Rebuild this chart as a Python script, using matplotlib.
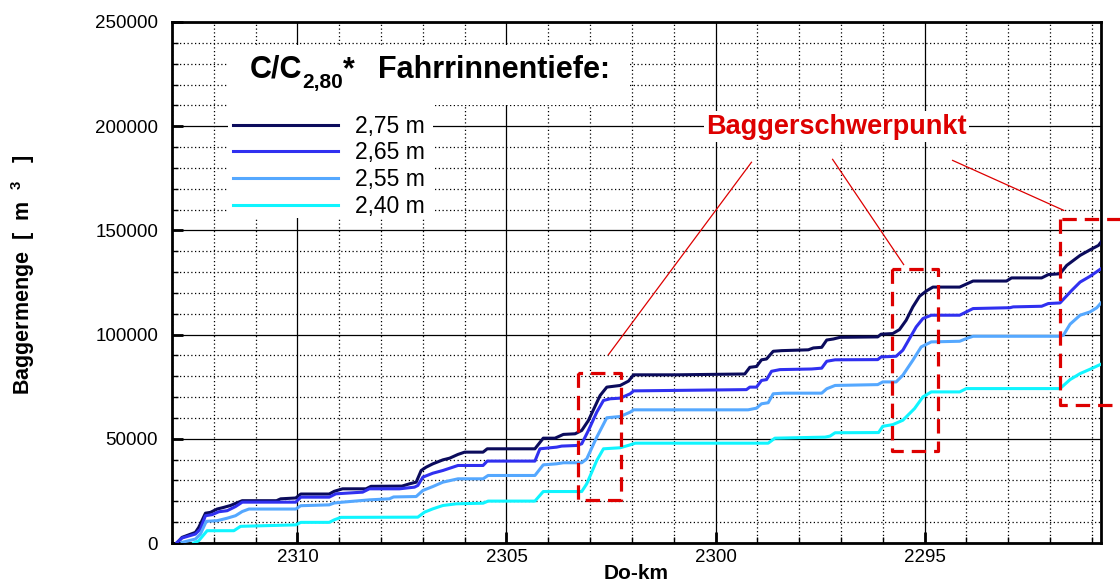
import matplotlib
matplotlib.use("Agg")
import matplotlib.pyplot as plt
from matplotlib.ticker import MultipleLocator
from matplotlib.patches import Rectangle

plt.rcParams['font.family'] = ['Liberation Sans', 'DejaVu Sans']
plt.rcParams['mathtext.fontset'] = 'custom'
plt.rcParams['mathtext.rm'] = 'Liberation Sans'
plt.rcParams['mathtext.bf'] = 'Liberation Sans:bold'
plt.rcParams['mathtext.it'] = 'Liberation Sans:italic'

# ---------------- data ----------------
km_275 = [2312.88, 2312.76, 2312.44, 2312.36, 2312.2, 2312.08, 2311.92, 2311.76, 2311.6, 2311.48,
          2311.32, 2310.5, 2310.4, 2310.04, 2309.92, 2309.24, 2309.12, 2308.92, 2308.36, 2308.24,
          2307.5, 2307.32, 2307.16, 2307.04, 2306.92, 2306.76, 2306.52, 2306.36, 2306.16, 2306.0,
          2305.56, 2305.46, 2304.32, 2304.12, 2303.84, 2303.64, 2303.36, 2303.2, 2303.04, 2302.76,
          2302.6, 2302.28, 2302.08, 2301.96, 2300.94, 2299.3, 2299.18, 2299.02, 2298.9, 2298.78,
          2298.62, 2298.42, 2297.78, 2297.66, 2297.46, 2297.34, 2297.18, 2297.02, 2296.12, 2296.04,
          2295.76, 2295.6, 2295.44, 2295.28, 2295.12, 2294.96, 2294.8, 2294.16, 2293.84, 2293.04,
          2292.92, 2292.2, 2292.04, 2291.76, 2291.6, 2291.28, 2291.04, 2290.84, 2290.78]
val_275 = [0, 2700, 5100, 7500, 14300, 14700, 16300, 17100, 18000, 19000,
           20300, 20300, 21200, 21600, 23500, 23500, 24800, 26000, 26000, 27200,
           27300, 28400, 29200, 34800, 36400, 38000, 39900, 40700, 42500, 43600,
           43600, 45200, 45200, 50300, 50300, 52100, 52400, 54000, 58800, 70800,
           74800, 75600, 77700, 80700, 80700, 81100, 84300, 84700, 87900, 88300,
           92000, 92300, 92700, 93600, 93900, 97400, 97900, 98700, 98900, 100200,
           100500, 102400, 106900, 113300, 118400, 120900, 122800, 122800, 125700, 125700,
           127200, 127200, 128800, 129200, 133200, 138000, 140700, 142800, 144400]

km_265 = [2312.88, 2312.76, 2312.44, 2312.32, 2312.2, 2312.04, 2311.88, 2311.68, 2311.48, 2311.32,
          2310.04, 2309.92, 2309.24, 2309.08, 2308.44, 2308.28, 2307.56, 2307.2, 2307.12, 2307.0,
          2306.76, 2306.52, 2306.16, 2305.56, 2305.46, 2304.32, 2304.2, 2303.8, 2303.68, 2303.32,
          2303.2, 2303.04, 2302.84, 2302.68, 2302.52, 2302.28, 2302.04, 2301.96, 2299.26, 2299.18,
          2299.02, 2298.9, 2298.78, 2298.66, 2298.46, 2297.7, 2297.46, 2297.34, 2297.14, 2296.12,
          2296.04, 2295.68, 2295.52, 2295.36, 2295.2, 2295.04, 2294.84, 2294.16, 2293.84, 2292.96,
          2292.88, 2292.2, 2292.04, 2291.76, 2291.48, 2291.28, 2291.04, 2290.78]
val_265 = [300, 2400, 4300, 6700, 13100, 13600, 15000, 15500, 17500, 19600,
           19600, 22000, 22000, 23600, 24400, 26000, 26000, 26800, 27600, 31600,
           33500, 34800, 37200, 37200, 39300, 39300, 45200, 46000, 46500, 46800,
           47600, 54000, 62800, 68400, 69200, 69500, 71600, 73000, 73600, 74800,
           74800, 78000, 78400, 82400, 83200, 83500, 83900, 87200, 87900, 88000,
           89300, 89600, 92500, 98100, 103700, 107700, 109300, 109300, 112500, 112900,
           113300, 113600, 114900, 115200, 121200, 125200, 128000, 131600]

km_255 = [2312.76, 2312.44, 2312.32, 2312.18, 2311.92, 2311.68, 2311.48, 2311.32, 2311.16, 2310.04,
          2309.92, 2309.24, 2309.12, 2308.92, 2308.28, 2307.8, 2307.7, 2307.16, 2307.0, 2306.76,
          2306.52, 2306.16, 2305.56, 2305.44, 2304.32, 2304.12, 2303.8, 2303.64, 2303.2, 2303.08,
          2302.84, 2302.6, 2302.28, 2302.04, 2301.96, 2299.22, 2299.02, 2298.9, 2298.74, 2298.62,
          2298.38, 2297.46, 2297.34, 2297.14, 2296.12, 2296.0, 2295.68, 2295.52, 2295.28, 2295.08,
          2294.84, 2294.16, 2294.0, 2293.84, 2291.76, 2291.68, 2291.52, 2291.28, 2291.04, 2290.88,
          2290.78]
val_255 = [300, 1900, 4300, 10400, 10700, 11900, 13100, 15100, 16300, 16300,
           17900, 18300, 19200, 19600, 20700, 21200, 22100, 22300, 25200, 27100,
           29200, 30800, 30800, 32400, 32400, 37500, 38000, 38500, 38500, 40400,
           50800, 60100, 60700, 62800, 63900, 63900, 64700, 66800, 67300, 71600,
           71900, 71900, 74000, 75600, 76000, 77300, 77300, 80500, 87700, 94100,
           96500, 96800, 98100, 99200, 99200, 99700, 105000, 109300, 110900, 112900,
           115200]

km_240 = [2312.48, 2312.36, 2312.16, 2311.52, 2311.36, 2310.04, 2309.92, 2309.24, 2309.12, 2308.96,
          2307.12, 2306.96, 2306.76, 2306.52, 2306.2, 2305.56, 2305.44, 2304.32, 2304.12, 2303.2,
          2303.08, 2302.84, 2302.68, 2302.28, 2302.04, 2301.92, 2298.74, 2298.58, 2297.38, 2297.26,
          2297.14, 2296.1, 2296.0, 2295.76, 2295.52, 2295.24, 2295.04, 2294.84, 2294.16, 2294.0,
          2291.76, 2291.52, 2291.28, 2291.04, 2290.78]
val_240 = [0, 1100, 5900, 5900, 8000, 8700, 9900, 9900, 11100, 12300,
           12400, 14800, 16400, 18000, 18800, 19100, 20100, 20100, 24700, 24700,
           28400, 39600, 45200, 45700, 47100, 47900, 47900, 50300, 50800, 51300,
           52900, 53000, 56000, 56800, 58900, 64500, 70100, 72500, 72500, 74100,
           74100, 78400, 81300, 83400, 85800]

series_labels = ['2,75 m', '2,65 m', '2,55 m', '2,40 m']
series_colors = ['#0b0b5c', '#3030f0', '#55a8ff', '#10f5ff']

x_ticks = [2310, 2305, 2300, 2295]
y_ticks = [0, 50000, 100000, 150000, 200000, 250000]

# Baggerschwerpunkt boxes (km_left, km_right, y_bottom, y_top) and leader lines
box_km = [(2303.28, 2302.27), (2295.79, 2294.69), (2291.77, 2290.2)]
box_val = [(20700, 81700), (44200, 131300), (66400, 155500)]
lead_km = [(2299.14, 2302.56), (2297.20, 2295.50), (2294.33, 2291.67)]
lead_val = [(182700, 90400), (184100, 133600), (183600, 159600)]

# ---------------- figure ----------------
W, H = 1120, 584
fig = plt.figure(figsize=(W / 100, H / 100), dpi=100)
ax = fig.add_axes([172 / W, 1 - 543 / H, (1101 - 172) / W, (543 - 22) / H])

lines = []
for km, val, lab, col in zip([km_275, km_265, km_255, km_240],
                             [val_275, val_265, val_255, val_240],
                             series_labels, series_colors):
    ln, = ax.plot(km, val, color=col, lw=2.2, label=lab, zorder=3, solid_joinstyle='round')
    lines.append(ln)

ax.set_xlim(2313, 2290.78)
ax.set_ylim(0, 250000)
ax.set_xticks(x_ticks)
ax.set_yticks(y_ticks)
ax.set_xticklabels([str(v) for v in x_ticks])
ax.set_yticklabels([str(v) for v in y_ticks])
ax.xaxis.set_minor_locator(MultipleLocator(1))
ax.yaxis.set_minor_locator(MultipleLocator(10000))
ax.set_axisbelow(True)
ax.grid(which='major', color='black', lw=0.9, ls='-')
ax.grid(which='minor', color='black', lw=0.9, ls=(0, (1, 2)))
ax.tick_params(which='major', direction='in', length=8, width=2, labelsize=13.5,
               top=False, right=False)
ax.tick_params(which='minor', direction='in', length=4, width=1, top=False, right=False)
ax.tick_params(axis='y', which='major', pad=10)
ax.tick_params(axis='x', which='major', pad=4)
for s in ax.spines.values():
    s.set_linewidth(2)

ax.set_xlabel('Do-km', fontsize=15, fontweight='bold', labelpad=-1)
ax.set_ylabel(r'Baggermenge  [  m  $^{\mathbf{3}}$   ]', fontsize=15.5, fontweight='bold')
ax.yaxis.set_label_coords((37 - 172) / (1101 - 172), 0.515)

# white backgrounds for title and legend
ax.add_patch(Rectangle((228 / W, 1 - 105 / H), (630 - 228) / W, 60 / H,
                       transform=fig.transFigure, facecolor='white', edgecolor='none', zorder=1.5))
ax.add_patch(Rectangle((228 / W, 1 - 218 / H), (433 - 228) / W, 114 / H,
                       transform=fig.transFigure, facecolor='white', edgecolor='none', zorder=1.5))

# legend title pieces
fig.text(250 / W, 1 - 78 / H, 'C/C', fontsize=22, fontweight='bold', va='baseline', ha='left')
fig.text(302 / W, 1 - 88 / H, '2,80', fontsize=15, fontweight='bold', va='baseline', ha='left')
fig.text(343 / W, 1 - 78 / H, '*', fontsize=22, fontweight='bold', va='baseline', ha='left')
fig.text(378 / W, 1 - 78 / H, 'Fahrrinnentiefe:', fontsize=22, fontweight='bold',
         va='baseline', ha='left')

leg = ax.legend(handles=lines, loc='upper left', bbox_to_anchor=(228 / W, 1 - 110 / H),
                bbox_transform=fig.transFigure, frameon=False, fontsize=16.5,
                handlelength=4.6, handletextpad=0.75, labelspacing=0.17, borderpad=0.2,
                borderaxespad=0)
leg.set_zorder(5)

# red annotations
red = '#dd0000'
for (k0, k1), (v0, v1) in zip(box_km, box_val):
    ax.plot([k0, k0, k1, k1, k0], [v1, v0, v0, v1, v1], color=red, lw=2.3,
            dashes=(4.5, 2.5), clip_on=False, zorder=4)
for (k0, k1), (v0, v1) in zip(lead_km, lead_val):
    ax.plot([k0, k1], [v0, v1], color=red, lw=0.9, zorder=4)

ax.text(2297.1, 199800, 'Baggerschwerpunkt', color=red, fontsize=19.5, fontweight='bold',
        ha='center', va='center', zorder=5,
        bbox=dict(facecolor='white', edgecolor='none', pad=1.5))

fig.savefig('out.png', dpi=100)
